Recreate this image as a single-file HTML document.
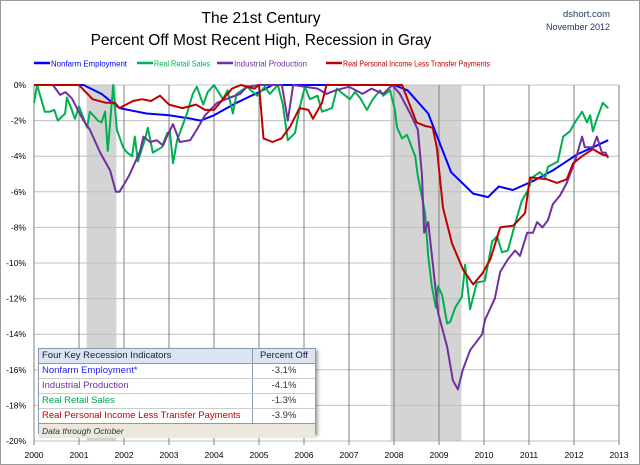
<!DOCTYPE html>
<html><head><meta charset="utf-8"><style>
body{margin:0;background:#fff}
#wrap{position:relative;width:640px;height:465px;overflow:hidden;font-family:"Liberation Sans",sans-serif}
svg text{font-family:"Liberation Sans",sans-serif}
</style></head><body>
<div id="wrap">
<svg id="chart" width="640" height="465">
<rect x="0.5" y="0.5" width="639" height="464" fill="#fff" stroke="#9a9a9a"/>
<text x="261" y="23" font-size="15.5" text-anchor="middle" fill="#000">The 21st Century</text>
<text x="261" y="45" font-size="15.5" text-anchor="middle" fill="#000">Percent Off Most Recent High, Recession in Gray</text>
<text x="610" y="17" font-size="9.5" text-anchor="end" fill="#1f3864">dshort.com</text>
<text x="610" y="30" font-size="9" text-anchor="end" fill="#1f3864">November 2012</text>
<g id="legend"></g>
<g id="rec"></g>
<g id="grid"></g>
<g id="series"></g>
</svg>
<div style="position:absolute;left:38px;top:348px;width:276px;height:84px;border:1px solid #8a9ab0;box-shadow:2px 2px 3px rgba(0,0,0,.35);background:#fff;font-size:9.5px;">
<div style="display:flex;height:14px;background:#dbe5f1;border-bottom:1px solid #8a9ab0;color:#1a1a3a"><div style="width:210px;padding-left:3px;line-height:14px">Four Key Recession Indicators</div><div style="flex:1;border-left:1px solid #8a9ab0;text-align:center;line-height:14px">Percent Off</div></div>
<div style="display:flex;height:14px;border-bottom:1px solid #ccc;color:#2020ff"><div style="width:210px;padding-left:3px;line-height:14px">Nonfarm Employment*</div><div style="flex:1;border-left:1px solid #8a9ab0;text-align:center;line-height:14px;color:#333">-3.1%</div></div>
<div style="display:flex;height:14px;border-bottom:1px solid #ccc;color:#7030a0"><div style="width:210px;padding-left:3px;line-height:14px">Industrial Production</div><div style="flex:1;border-left:1px solid #8a9ab0;text-align:center;line-height:14px;color:#333">-4.1%</div></div>
<div style="display:flex;height:14px;border-bottom:1px solid #ccc;color:#00a050"><div style="width:210px;padding-left:3px;line-height:14px">Real Retail Sales</div><div style="flex:1;border-left:1px solid #8a9ab0;text-align:center;line-height:14px;color:#333">-1.3%</div></div>
<div style="display:flex;height:14px;border-bottom:1px solid #8a9ab0;color:#c00000"><div style="width:210px;padding-left:3px;line-height:14px">Real Personal Income Less Transfer Payments</div><div style="flex:1;border-left:1px solid #8a9ab0;text-align:center;line-height:14px;color:#333">-3.9%</div></div>
<div style="height:14px;background:#ece9dc;font-style:italic;font-size:8.5px;padding-left:3px;line-height:14px;color:#333">Data through October</div>
</div>
</div>
<script>
const yearTicks=[2000,2001,2002,2003,2004,2005,2006,2007,2008,2009,2010,2011,2012,2013];
const pctTicks=[0,-2,-4,-6,-8,-10,-12,-14,-16,-18,-20];
const recessions=[[2001.17,2001.83],[2007.92,2009.5]];
const nonfarmX=[2000,2001.1,2001.5,2001.9,2002.5,2003.0,2003.5,2003.7,2004.0,2004.5,2005.0,2005.3,2008.0,2008.3,2008.76,2009.27,2009.76,2010.09,2010.33,2010.64,2011.09,2011.53,2012.07,2012.42,2012.76];
const nonfarmY=[0,0,-0.5,-1.3,-1.6,-1.7,-1.9,-2.0,-1.7,-1.0,-0.4,0,0,-0.3,-1.6,-4.9,-6.1,-6.3,-5.7,-5.9,-5.4,-4.8,-3.9,-3.5,-3.1];
const incomeX=[2000,2001.0,2001.3,2001.6,2001.8,2001.9,2002.2,2002.4,2002.6,2002.8,2003.0,2003.3,2003.6,2003.8,2004.0,2004.2,2004.4,2004.6,2004.9,2005.0,2005.1,2005.3,2005.5,2005.7,2005.9,2006.1,2006.2,2006.4,2006.5,2008.18,2008.5,2008.69,2008.86,2008.95,2009.09,2009.29,2009.54,2009.76,2009.96,2010.14,2010.36,2010.65,2010.91,2011.02,2011.09,2011.4,2011.62,2011.84,2011.98,2012.18,2012.42,2012.62,2012.76];
const incomeY=[0,0,-0.8,-1.0,-1.0,-1.3,-0.9,-0.8,-0.9,-0.6,-1.1,-1.3,-1.1,-1.4,-1.4,-0.8,-0.2,0,-0.2,0,-3.0,-3.2,-3.0,-2.3,-1.3,-1.4,-1.9,-1.0,0,0,-2.1,-2.3,-2.4,-3.5,-6.9,-8.9,-10.4,-11.2,-10.6,-9.8,-8.0,-7.9,-7.2,-5.2,-5.2,-5.3,-5.5,-5.3,-4.4,-4.0,-3.6,-3.9,-4.0];
const indprodX=[2000,2000.42,2000.58,2000.7,2000.84,2001.1,2001.24,2001.47,2001.69,2001.82,2001.9,2002.02,2002.13,2002.36,2002.43,2002.58,2002.73,2002.87,2002.95,2003.09,2003.24,2003.47,2003.62,2003.8,2004.07,2004.36,2004.58,2004.73,2005.0,2005.51,2005.64,2005.76,2006.3,2006.5,2006.7,2007.0,2007.3,2007.5,2007.76,2007.96,2008.13,2008.36,2008.53,2008.62,2008.67,2008.76,2008.87,2008.98,2009.18,2009.31,2009.42,2009.53,2009.69,2009.96,2010.02,2010.24,2010.36,2010.53,2010.69,2010.8,2010.96,2011.09,2011.18,2011.3,2011.42,2011.53,2011.69,2011.84,2012.02,2012.18,2012.24,2012.42,2012.51,2012.62,2012.7,2012.76];
const indprodY=[0,0,-0.55,-0.4,-0.75,-2.0,-2.5,-3.8,-4.8,-6.0,-6.0,-5.5,-5.0,-3.7,-2.9,-3.2,-3.1,-3.4,-2.9,-2.2,-3.2,-3.1,-2.5,-1.7,-1.0,-0.7,-0.5,-0.1,0,0,-2.0,0,-0.2,-0.5,-0.3,-0.1,-0.5,-0.2,-0.5,0,-0.5,-1.6,-2.5,-5.0,-8.3,-7.7,-10.2,-12.8,-14.7,-16.6,-17.1,-16.0,-14.9,-14.0,-13.2,-12.0,-10.5,-9.8,-9.3,-9.6,-8.3,-8.3,-7.7,-8.0,-7.6,-6.7,-6.2,-5.5,-4.3,-2.9,-3.5,-3.5,-2.9,-3.8,-3.8,-4.1];
const retailX=[2000,2000.07,2000.24,2000.35,2000.45,2000.53,2000.69,2000.73,2000.84,2000.91,2001.0,2001.18,2001.24,2001.42,2001.5,2001.58,2001.64,2001.76,2001.84,2001.98,2002.07,2002.18,2002.24,2002.31,2002.47,2002.53,2002.64,2002.84,2002.96,2003.02,2003.09,2003.18,2003.4,2003.53,2003.62,2003.76,2003.86,2004.0,2004.2,2004.3,2004.42,2004.5,2004.73,2004.96,2005.13,2005.24,2005.42,2005.53,2005.64,2005.8,2005.91,2006.02,2006.13,2006.3,2006.4,2006.62,2006.73,2006.87,2007.02,2007.13,2007.24,2007.4,2007.53,2007.69,2007.76,2007.91,2008.02,2008.07,2008.18,2008.29,2008.47,2008.53,2008.69,2008.76,2008.84,2008.93,2008.98,2009.07,2009.18,2009.25,2009.36,2009.51,2009.58,2009.69,2009.84,2010.02,2010.18,2010.29,2010.4,2010.53,2010.69,2010.84,2010.98,2011.07,2011.24,2011.36,2011.42,2011.64,2011.76,2011.91,2012.02,2012.18,2012.29,2012.36,2012.42,2012.51,2012.64,2012.76];
const retailY=[-1.0,0,-1.5,-1.5,-1.4,-2.0,-1.6,-0.7,-1.4,-1.9,-1.2,-2.4,-1.5,-2.0,-2.1,-1.5,-3.7,0,-2.5,-3.5,-3.8,-4.0,-2.9,-4.3,-3.0,-2.4,-3.8,-3.5,-2.7,-2.6,-4.4,-3.1,-1.6,-0.5,-0.1,-1.1,-0.4,0,-0.8,-0.3,-1.6,-0.5,-0.1,-0.6,-0.1,-0.5,0,-1.1,-3.1,-2.7,-1.2,-0.1,-0.8,-0.6,-1.5,-1.3,-0.2,-0.5,-0.8,-0.4,-0.7,-1.4,-0.8,-0.3,-0.6,-0.3,-1.4,-2.4,-3.0,-2.8,-4.0,-5.1,-7.2,-9.6,-11.3,-12.5,-11.3,-11.8,-13.4,-13.3,-12.5,-11.9,-10.1,-12.6,-11.1,-11.0,-8.8,-8.5,-9.4,-9.3,-7.8,-6.5,-5.9,-5.2,-4.9,-5.2,-4.6,-4.3,-2.9,-2.6,-2.1,-1.5,-2.1,-1.7,-2.6,-1.9,-1.0,-1.3];
const seriesList=[
 {name:'nonfarm-employment-line',xs:nonfarmX,ys:nonfarmY,color:'#0000ff'},
 {name:'real-retail-sales-line',xs:retailX,ys:retailY,color:'#00b050'},
 {name:'industrial-production-line',xs:indprodX,ys:indprodY,color:'#7030a0'},
 {name:'real-personal-income-line',xs:incomeX,ys:incomeY,color:'#c00000'}];
const legendLabels=['Nonfarm Employment','Real Retail Sales','Industrial Production','Real Personal Income Less Transfer Payments'];
const NS='http://www.w3.org/2000/svg';
const X0=34,X1=619,Y0=85,Y1=441;
const xs=v=>X0+(v-2000)/13*(X1-X0);
const ys=v=>Y0+(-v)/20*(Y1-Y0);
function mk(tag,attrs,parent){const e=document.createElementNS(NS,tag);for(const k in attrs)e.setAttribute(k,attrs[k]);parent.appendChild(e);return e;}
const rec=document.getElementById('rec'),grid=document.getElementById('grid'),ser=document.getElementById('series'),leg=document.getElementById('legend');
recessions.forEach(r=>{const e=mk('rect',{x:xs(r[0]),y:Y0,width:xs(r[1])-xs(r[0]),height:Y1-Y0,fill:'#d4d4d4'},rec);

});
pctTicks.forEach(p=>{const l=mk('line',{x1:X0,x2:X1,y1:ys(p),y2:ys(p),stroke:'#c0c0c0','stroke-width':1},grid);


const t=mk('text',{x:X0-8,y:ys(p)+3,'font-size':8.5,'text-anchor':'end',fill:'#000'},grid);t.textContent=p+'%';

});
yearTicks.forEach(y=>{const l=mk('line',{x1:xs(y),x2:xs(y),y1:Y0,y2:Y1+4,stroke:'#808080','stroke-width':1},grid);


const t=mk('text',{x:xs(y),y:Y1+17,'font-size':8.5,'text-anchor':'middle',fill:'#000'},grid);t.textContent=y;

});
seriesList.forEach(s=>{const d=s.xs.map((x,i)=>(i?'L':'M')+xs(x).toFixed(1)+','+ys(s.ys[i]).toFixed(1)).join('');
const p=mk('path',{d:d,fill:'none',stroke:s.color,'stroke-width':2,'stroke-linejoin':'round'},ser);

});
const legX=[34,137,217,326];
const legW=[76,56,73,147];
legendLabels.forEach((lab,i)=>{const c=seriesList[i].color;
mk('line',{x1:legX[i],x2:legX[i]+16,y1:63,y2:63,stroke:c,'stroke-width':2.5},leg);
const t=mk('text',{x:legX[i]+17,y:66.5,'font-size':8.5,fill:c,textLength:legW[i],lengthAdjust:'spacingAndGlyphs'},leg);t.textContent=lab;

});
</script>
</body></html>
